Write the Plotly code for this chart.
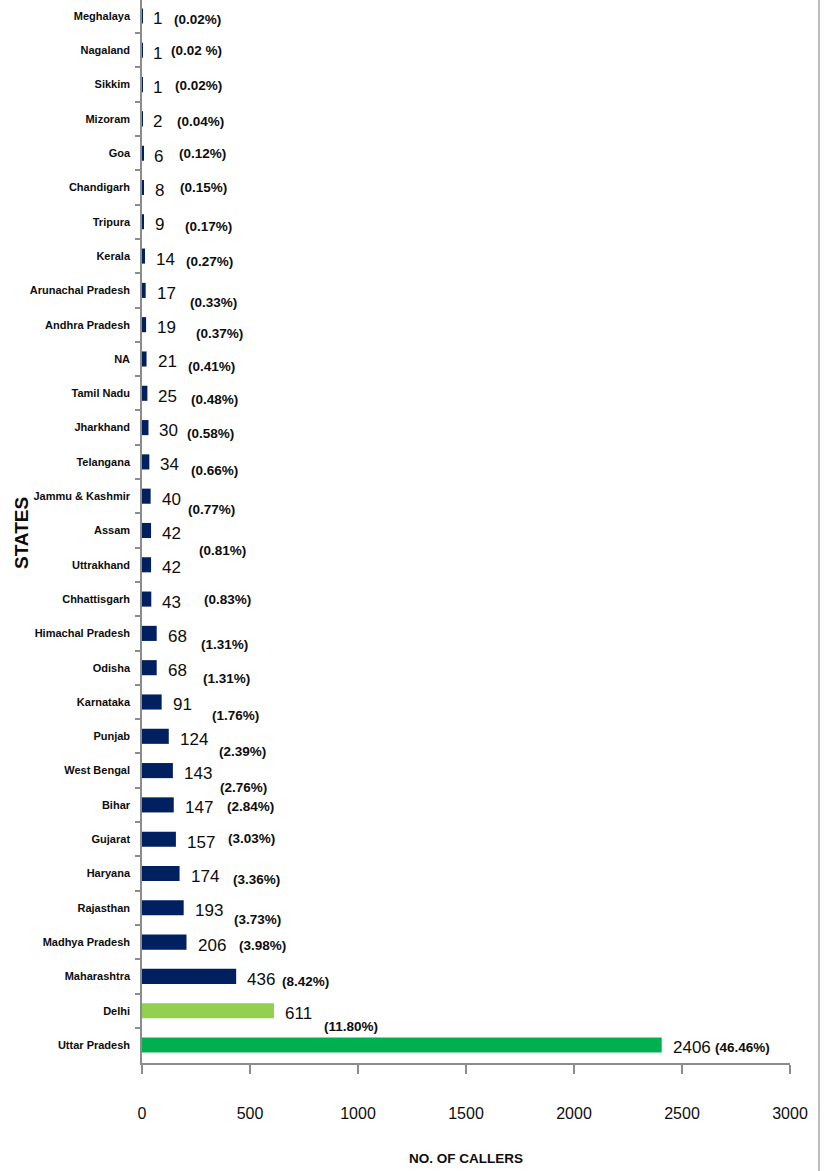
import plotly.graph_objects as go

# Callers by state, listed top to bottom
states = ["Meghalaya", "Nagaland", "Sikkim", "Mizoram", "Goa", "Chandigarh", "Tripura",
          "Kerala", "Arunachal Pradesh", "Andhra Pradesh", "NA", "Tamil Nadu", "Jharkhand",
          "Telangana", "Jammu & Kashmir", "Assam", "Uttrakhand", "Chhattisgarh",
          "Himachal Pradesh", "Odisha", "Karnataka", "Punjab", "West Bengal", "Bihar",
          "Gujarat", "Haryana", "Rajasthan", "Madhya Pradesh", "Maharashtra", "Delhi",
          "Uttar Pradesh"]
callers = [1, 1, 1, 2, 6, 8, 9, 14, 17, 19, 21, 25, 30, 34, 40, 42, 42, 43, 68, 68, 91,
           124, 143, 147, 157, 174, 193, 206, 436, 611, 2406]
shares = ["(0.02%)", "(0.02 %)", "(0.02%)", "(0.04%)", "(0.12%)", "(0.15%)", "(0.17%)",
          "(0.27%)", "(0.33%)", "(0.37%)", "(0.41%)", "(0.48%)", "(0.58%)", "(0.66%)",
          "(0.77%)", "(0.81%)", "", "(0.83%)", "(1.31%)", "(1.31%)", "(1.76%)", "(2.39%)",
          "(2.76%)", "(2.84%)", "(3.03%)", "(3.36%)", "(3.73%)", "(3.98%)", "(8.42%)",
          "(11.80%)", "(46.46%)"]
x_ticks = [0, 500, 1000, 1500, 2000, 2500, 3000]

# Label placement (pixels): share label centre right of bar end, and drop below bar centre
share_dx = [55, 54, 56, 58, 59, 60, 65, 64, 68, 73, 65, 67, 62, 65, 61, 71, 0, 76, 68, 70,
            74, 74, 71, 77, 76, 77, 74, 76, 69, 77, 81]
share_dy = [4, 0, 1, 3, 0, 0, 5, 5, 12, 9, 8, 6, 6, 9, 13, 20, 0, 0, 11, 11, 14, 15, 17, 2,
            -1, 6, 12, 3, 5, 16, 3]

NAVY = "#002060"
colors = [NAVY] * len(states)
colors[states.index("Delhi")] = "#92D050"
colors[states.index("Uttar Pradesh")] = "#00B050"

FONT = "Liberation Sans, Arial, sans-serif"
TEXT = "#0D0D0D"
AXIS_GREY = "#8C8C8C"

# plot area in pixels
L, R, T, B = 142, 35, 0, 108
PLOT_W = 825 - L - R
PLOT_H = 1171 - T - B

fig = go.Figure(go.Bar(
    x=callers, y=states, orientation="h",
    marker=dict(color=colors, line=dict(width=0)),
    width=0.44, hoverinfo="x+y",
))

annotations = []
for s, v, pct, dx, dy in zip(states, callers, shares, share_dx, share_dy):
    annotations.append(dict(
        x=v, y=s, xref="x", yref="y", text=str(v), showarrow=False,
        xanchor="left", yanchor="middle", xshift=9, yshift=-3,
        font=dict(family=FONT, size=17, color=TEXT),
    ))
    if pct:
        annotations.append(dict(
            x=v, y=s, xref="x", yref="y", text=f"<b>{pct}</b>", showarrow=False,
            xanchor="center", yanchor="middle", xshift=dx, yshift=-dy,
            font=dict(family=FONT, size=13.5, color=TEXT),
        ))

# axis titles
annotations.append(dict(
    x=0.5, y=-(1158 - PLOT_H) / PLOT_H, xref="paper", yref="paper",
    text="<b>NO. OF CALLERS</b>", showarrow=False, xanchor="center", yanchor="middle",
    font=dict(family=FONT, size=13.5, color=TEXT),
))
annotations.append(dict(
    x=(22 - L) / PLOT_W, y=(PLOT_H - 533) / PLOT_H, xref="paper", yref="paper",
    text="<b>STATES</b>", showarrow=False, textangle=-90,
    xanchor="center", yanchor="middle",
    font=dict(family=FONT, size=19, color=TEXT),
))

border_x = (819 - L) / PLOT_W

fig.update_layout(
    width=825, height=1171,
    margin=dict(l=L, r=R, t=T, b=B, autoexpand=False),
    paper_bgcolor="white", plot_bgcolor="white",
    showlegend=False,
    annotations=annotations,
    shapes=[dict(type="line", xref="paper", yref="paper",
                 x0=border_x, x1=border_x, y0=-B / PLOT_H - 0.01, y1=1.01,
                 line=dict(color="#A6A6A6", width=1.5))],
    xaxis=dict(
        range=[0, 3000], tickvals=x_ticks, ticktext=[str(t) for t in x_ticks],
        automargin=False,
        showgrid=False, zeroline=False,
        showline=True, linecolor=AXIS_GREY, linewidth=1.5,
        ticks="outside", ticklen=9, tickcolor=AXIS_GREY, tickwidth=1.5,
        ticklabelstandoff=26,
        tickfont=dict(family=FONT, size=16, color=TEXT),
    ),
    yaxis=dict(
        type="category", categoryorder="array", categoryarray=states,
        range=[len(states) - 1 + 0.525, -0.466],
        automargin=False,
        showgrid=False, zeroline=False,
        showline=True, linecolor=AXIS_GREY, linewidth=1.5,
        ticks="outside", ticklen=5, tickcolor=AXIS_GREY, tickwidth=1.5,
        tickson="boundaries", ticklabelstandoff=8,
        tickfont=dict(family=FONT, size=11, color=TEXT, weight="bold"),
    ),
)

fig.write_html("out.html")
